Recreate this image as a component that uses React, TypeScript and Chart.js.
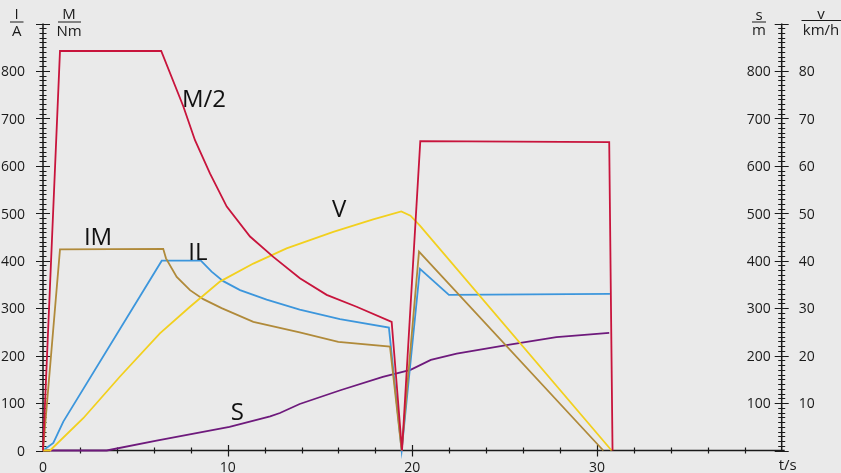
import React, { useEffect, useRef } from "react";
import { Chart, registerables } from "chart.js";

Chart.register(...registerables);

// ---- data (t in s) ----
const mT = [0, 0.92, 6.4, 7.6, 8.23, 9.04, 9.95, 11.21, 12.47, 13.91, 15.36, 16.98, 18.88, 19.44, 20.43, 30.66, 30.84];
const mVal = [0, 842, 842, 725, 654, 584, 514, 451, 408, 363, 328, 303, 271, 0, 652, 650, 0];

const imT = [0, 0.92, 6.51, 6.66, 7.24, 7.96, 8.68, 9.67, 11.39, 13.9, 15.99, 18.79, 19.42, 20.36, 30.34];
const imVal = [0, 424, 425, 405, 366, 338, 319, 300, 271, 249, 229, 219, 0, 419, 0];

const ilT = [0, 0.56, 1.1, 6.43, 8.55, 9.13, 9.76, 10.67, 12.11, 13.9, 16.08, 18.73, 19.42, 20.41, 21.98, 30.7];
const ilVal = [0, 16, 61, 400, 400, 377, 357, 338, 318, 297, 277, 259, 0, 383, 328, 330];

const vT = [0, 0.38, 2.18, 4.17, 6.33, 7.96, 9.58, 11.39, 13.19, 15.72, 17.88, 19.4, 19.9, 20.41, 30.79];
const vVal = [0, 0, 6.8, 15.6, 24.7, 30.3, 35.6, 39.4, 42.6, 46.1, 48.7, 50.4, 49.5, 47.4, 0];

const sT = [0, 3.45, 6.15, 10.1, 12.3, 12.83, 13.9, 16.1, 18.4, 19.9, 21.0, 22.4, 25.1, 27.8, 30.66];
const sVal = [0, 0, 21, 50, 72, 79, 98, 127, 155, 170, 191, 204, 222, 239, 248];

const xTicksMajor = [0, 10, 20, 30];
const leftTickLabels = [0, 100, 200, 300, 400, 500, 600, 700, 800];
const rightTickLabels = [100, 200, 300, 400, 500, 600, 700, 800];
const vTickLabels = [10, 20, 30, 40, 50, 60, 70, 80];

const seriesNames = ["M/2", "IM", "IL", "V", "S"];
const seriesColors = ["#c8143c", "#b08a3a", "#3c96dc", "#f2d01e", "#6e1a7c"];

// label anchors (t, left-axis value) for the curve names
const nameAnchorT = [8.72, 2.98, 8.39, 16.03, 10.52];
const nameAnchorV = [725, 434, 401, 492, 65];

const FONT = "'Open Sans', 'DejaVu Sans', sans-serif";

function pts(t: number[], v: number[]) {
  return t.map((x, i) => ({ x, y: v[i] }));
}

const axesPlugin = {
  id: "customAxes",
  beforeDatasetsDraw(chart: any) {
    const ctx = chart.ctx as CanvasRenderingContext2D;
    const xs = chart.scales.x;
    const ys = chart.scales.y;
    const ys2 = chart.scales.y2;
    const x0 = xs.getPixelForValue(0);
    const x40 = xs.getPixelForValue(40);
    const yb = ys.getPixelForValue(0);
    const yt = ys.getPixelForValue(900);
    ctx.save();
    ctx.strokeStyle = "#1a1a1a";
    ctx.fillStyle = "#1a1a1a";
    // axis lines
    ctx.lineWidth = 1.5;
    ctx.beginPath();
    ctx.moveTo(x0, yt);
    ctx.lineTo(x0, yb);
    ctx.moveTo(x40, yt);
    ctx.lineTo(x40, yb);
    ctx.moveTo(x0, yb);
    ctx.lineTo(x40 + 3, yb);
    ctx.stroke();
    // y ticks
    ctx.lineWidth = 1.2;
    ctx.beginPath();
    for (let v = 0; v <= 900; v += 10) {
      const py = Math.round(ys.getPixelForValue(v)) + 0.5;
      const len = v % 100 === 0 ? 7 : 3.5;
      for (const ax of [x0, x40]) {
        ctx.moveTo(ax - len, py);
        ctx.lineTo(ax + len, py);
      }
    }
    // x ticks
    for (let t = 2; t < 40; t += 2) {
      const px = Math.round(xs.getPixelForValue(t)) + 0.5;
      const major = t % 10 === 0;
      ctx.moveTo(px, yb - (major ? 5.5 : 3));
      ctx.lineTo(px, yb + (major ? 6 : 3));
    }
    ctx.stroke();

    // tick labels
    ctx.font = `14px ${FONT}`;
    ctx.textAlign = "right";
    ctx.textBaseline = "alphabetic";
    for (const v of leftTickLabels) {
      ctx.fillText(String(v), x0 - 18, ys.getPixelForValue(v) + 5.3);
    }
    for (const v of rightTickLabels) {
      ctx.fillText(String(v), x40 - 11, ys.getPixelForValue(v) + 5.3);
    }
    ctx.textAlign = "left";
    for (const v of vTickLabels) {
      ctx.fillText(String(v), x40 + 17, ys2.getPixelForValue(v) + 5.3);
    }
    ctx.textAlign = "center";
    for (const t of xTicksMajor) {
      ctx.fillText(String(t), xs.getPixelForValue(t), yb + 21);
    }
    ctx.font = `15px ${FONT}`;
    ctx.fillText("t/s", x40 + 6, yb + 19);

    // axis titles (fractions)
    const frac = (num: string, den: string, cx: number, l1: number, l2: number, ly: number, nb: number, db: number) => {
      ctx.fillText(num, cx, nb);
      ctx.fillText(den, cx, db);
      ctx.lineWidth = 1;
      ctx.beginPath();
      ctx.moveTo(l1, ly + 0.5);
      ctx.lineTo(l2, ly + 0.5);
      ctx.stroke();
    };
    ctx.font = `15px ${FONT}`;
    frac("I", "A", 16.7, 10, 23.5, 21.5, 19, 36);
    frac("M", "Nm", 69, 58, 81, 21.5, 19, 36);
    frac("s", "m", 759, 752, 766, 21.5, 19.5, 35);
    frac("v", "km/h", 821, 801.5, 841, 20, 19, 35);
    ctx.restore();
  },
  afterDatasetsDraw(chart: any) {
    const ctx = chart.ctx as CanvasRenderingContext2D;
    const xs = chart.scales.x;
    const ys = chart.scales.y;
    ctx.save();
    ctx.fillStyle = "#111";
    ctx.font = `24px ${FONT}`;
    ctx.textAlign = "center";
    ctx.textBaseline = "alphabetic";
    seriesNames.forEach((n, i) => {
      ctx.fillText(n, xs.getPixelForValue(nameAnchorT[i]), ys.getPixelForValue(nameAnchorV[i]));
    });
    ctx.restore();
  },
};

export default function App() {
  const ref = useRef<HTMLCanvasElement | null>(null);
  useEffect(() => {
    if (!ref.current) return;
    const mk = (label: string, data: any[], color: string, order: number, axis = "y") => ({
      label,
      data,
      borderColor: color,
      backgroundColor: color,
      borderWidth: 1.8,
      pointRadius: 0,
      tension: 0,
      fill: false,
      order,
      yAxisID: axis,
      clip: false as any,
    });
    const chart = new Chart(ref.current, {
      type: "line",
      data: {
        datasets: [
          mk(seriesNames[0], pts(mT, mVal), seriesColors[0], 0),
          mk(seriesNames[3], pts(vT, vVal), seriesColors[3], 1, "y2"),
          mk(seriesNames[1], pts(imT, imVal), seriesColors[1], 2),
          mk(seriesNames[2], pts(ilT, ilVal), seriesColors[2], 3),
          mk(seriesNames[4], pts(sT, sVal), seriesColors[4], 4),
        ],
      },
      options: {
        animation: false,
        responsive: false,
        devicePixelRatio: 1,
        parsing: true,
        layout: { padding: { left: 43, right: 59.3, top: 23.5, bottom: 22.5 } },
        plugins: { legend: { display: false }, tooltip: { enabled: false } },
        scales: {
          x: { type: "linear", min: 0, max: 40, display: false },
          y: { type: "linear", min: 0, max: 900, display: false },
          y2: { type: "linear", min: 0, max: 90, display: false, position: "right" },
        },
      },
      plugins: [axesPlugin],
    });
    return () => chart.destroy();
  }, []);
  return (
    <div style={{ position: "fixed", left: 0, top: 0, width: 841, height: 473, background: "#eaeaea" }}>
      <canvas ref={ref} width={841} height={473} style={{ display: "block" }} />
    </div>
  );
}
